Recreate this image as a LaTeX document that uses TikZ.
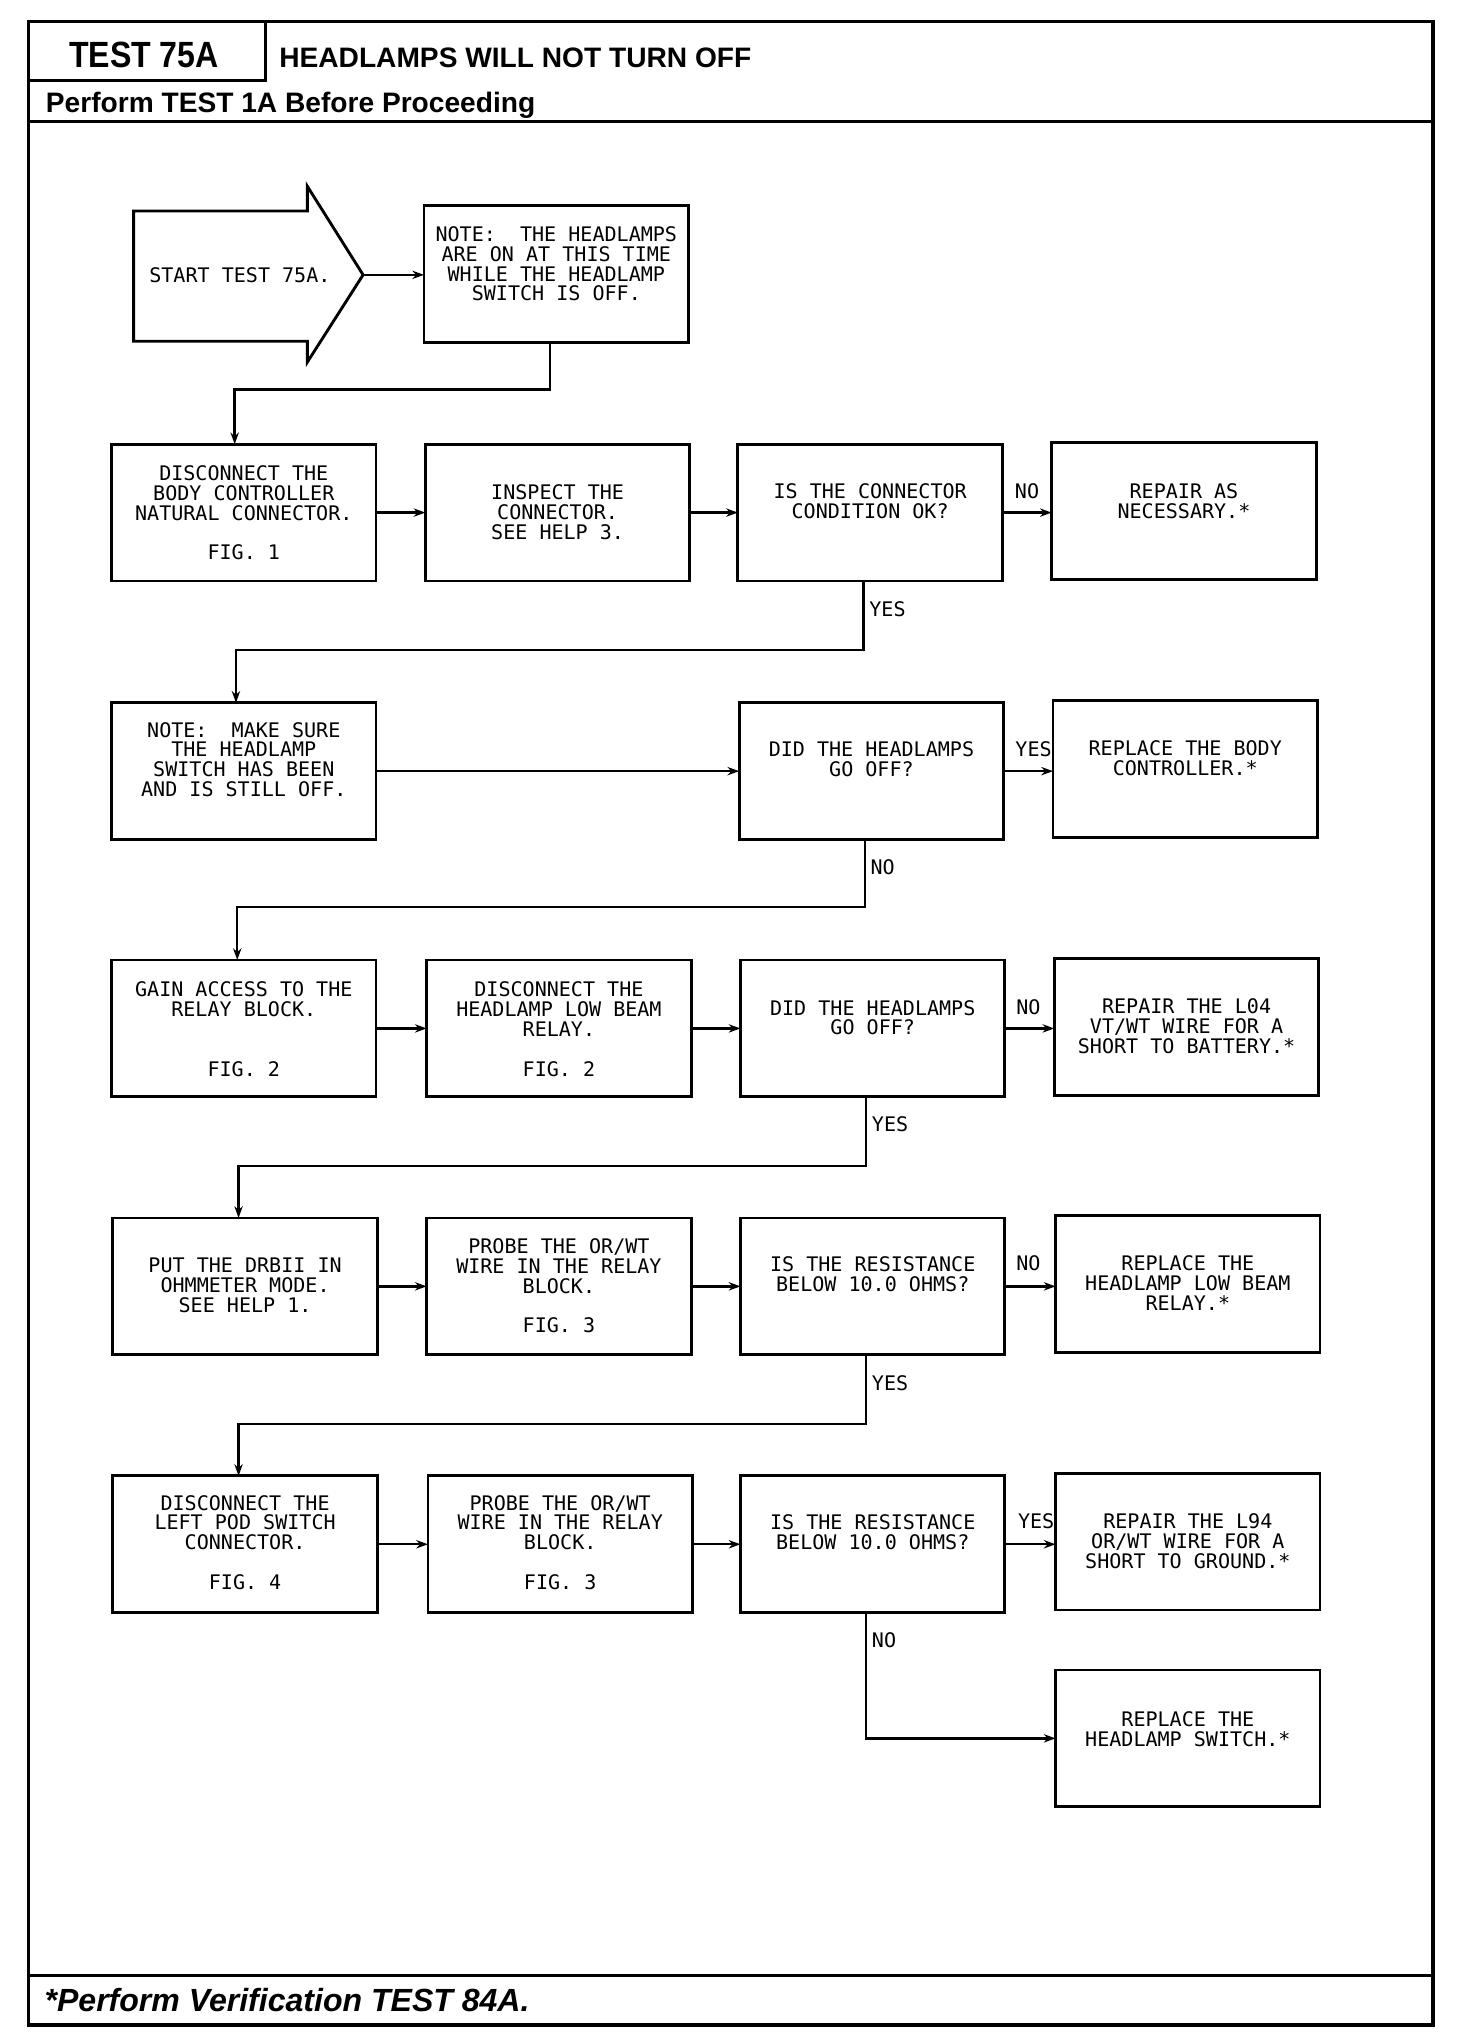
\documentclass[tikz,border=0pt]{standalone}
\usepackage{fontspec}
\setmainfont{Liberation Sans}
\newfontfamily\plotfont{DejaVu Sans Mono}
\newfontfamily\headcond[FakeStretch=0.88]{Liberation Sans}
\usetikzlibrary{arrows.meta,calc}
\begin{document}
\begin{tikzpicture}[x=0.49775pt,y=-0.5pt,
  box/.style={draw,line width=1.1pt,minimum width=101.5pt,minimum height=52.5pt,inner sep=0pt,outer sep=0pt,anchor=north west},
  txt/.style={font={\plotfont\fontsize{7.7pt}{7.6pt}\selectfont},align=center,inner sep=0pt,anchor=north},
  lbl/.style={font={\plotfont\fontsize{7.7pt}{7.6pt}\selectfont},inner sep=0pt},
  arr/.style={line width=0.9pt,-{Stealth[length=4.5pt,width=3.2pt]}},
  frame/.style={line width=1.2pt}]
\useasboundingbox (0,0) rectangle (1135.1,1563);
% frame and header
\draw[frame] (22,16.8) rectangle (1105,1554.5);
\draw[frame] (205,16.8) -- (205,62) -- (22,62);
\draw[frame] (22,93.5) -- (1105,93.5);
\draw[frame] (22,1516.5) -- (1105,1516.5);
\node[font={\headcond\bfseries\fontsize{14pt}{16pt}\selectfont},anchor=base,inner sep=0pt] (ttl) at (111,52) {TEST 75A};
\node[font={\bfseries\fontsize{10.8pt}{12pt}\selectfont},anchor=base west,inner sep=0pt] (head) at (215,52) {HEADLAMPS WILL NOT TURN OFF};
\node[font={\bfseries\fontsize{10.8pt}{12pt}\selectfont},anchor=base west,inner sep=0pt] (pre) at (35,86.5) {Perform TEST 1A Before Proceeding};
\node[font={\bfseries\itshape\fontsize{12.3pt}{14pt}\selectfont},anchor=base west,inner sep=0pt] (foot) at (34,1544.5) {*Perform Verification TEST 84A.};
% start arrow
\draw[line width=1.1pt] (103,162) -- (237,162) -- (237,143) -- (280,211) -- (237,278) -- (237,262) -- (103,262) -- cycle;
\node[lbl] (start) at (185,211) {START TEST 75A.};
\coordinate (st) at (280,211);
% boxes
\node[box] (N1) at (327,158) {};
\node[txt] at (429,173.5) {NOTE:\ \ THE HEADLAMPS\\ARE ON AT THIS TIME\\WHILE THE HEADLAMP\\SWITCH IS OFF.};
\node[box] (B1) at (86,341) {};
\node[txt] at (188,357) {DISCONNECT THE\\BODY CONTROLLER\\NATURAL CONNECTOR.\\~\\FIG. 1};
\node[box] (B2) at (328,341) {};
\node[txt] at (430,372) {INSPECT THE\\CONNECTOR.\\SEE HELP 3.};
\node[box] (B3) at (569,341) {};
\node[txt] at (671,371) {IS THE CONNECTOR\\CONDITION OK?};
\node[box] (B4) at (811,340) {};
\node[txt] at (913,371) {REPAIR AS\\NECESSARY.*};
\node[box] (C1) at (86,539.5) {};
\node[txt] at (188,554) {NOTE:\ \ MAKE SURE\\THE HEADLAMP\\SWITCH HAS BEEN\\AND IS STILL OFF.};
\node[box] (C3) at (570,539.5) {};
\node[txt] at (672,569) {DID THE HEADLAMPS\\GO OFF?};
\node[box] (C4) at (812,538) {};
\node[txt] at (914,568.5) {REPLACE THE BODY\\CONTROLLER.*};
\node[box] (D1) at (86,737) {};
\node[txt] at (188,753.5) {GAIN ACCESS TO THE\\RELAY BLOCK.\\~\\~\\FIG. 2};
\node[box] (D2) at (329,737) {};
\node[txt] at (431,753.5) {DISCONNECT THE\\HEADLAMP LOW BEAM\\RELAY.\\~\\FIG. 2};
\node[box] (D3) at (571,737) {};
\node[txt] at (673,767.5) {DID THE HEADLAMPS\\GO OFF?};
\node[box] (D4) at (813,736) {};
\node[txt] at (915,766.5) {REPAIR THE L04\\VT/WT WIRE FOR A\\SHORT TO BATTERY.*};
\node[box] (E1) at (87,935) {};
\node[txt] at (189,965.5) {PUT THE DRBII IN\\OHMMETER MODE.\\SEE HELP 1.};
\node[box] (E2) at (329,935) {};
\node[txt] at (431,950.5) {PROBE THE OR/WT\\WIRE IN THE RELAY\\BLOCK.\\~\\FIG. 3};
\node[box] (E3) at (571,935) {};
\node[txt] at (673,964.5) {IS THE RESISTANCE\\BELOW 10.0 OHMS?};
\node[box] (E4) at (814,933) {};
\node[txt] at (916,963.5) {REPLACE THE\\HEADLAMP LOW BEAM\\RELAY.*};
\node[box] (F1) at (87,1133) {};
\node[txt] at (189,1147.5) {DISCONNECT THE\\LEFT POD SWITCH\\CONNECTOR.\\~\\FIG. 4};
\node[box] (F2) at (330,1133) {};
\node[txt] at (432,1147.5) {PROBE THE OR/WT\\WIRE IN THE RELAY\\BLOCK.\\~\\FIG. 3};
\node[box] (F3) at (571,1133) {};
\node[txt] at (673,1162.5) {IS THE RESISTANCE\\BELOW 10.0 OHMS?};
\node[box] (F4) at (814,1131) {};
\node[txt] at (916,1161.5) {REPAIR THE L94\\OR/WT WIRE FOR A\\SHORT TO GROUND.*};
\node[box] (F5) at (814,1282) {};
\node[txt] at (916,1313.5) {REPLACE THE\\HEADLAMP SWITCH.*};
% connectors
\draw[arr] (st) -- (st -| N1.west);
\draw[arr] ($(N1.south)+(-5,0)$) -- ++(0,36) -| ($(B1.north)+(-7,0)$);
\draw[arr] (B1.east) -- (B2.west);
\draw[arr] (B2.east) -- (B3.west);
\draw[arr] (B3.east) -- (B3.east -| B4.west);
\node[lbl] (l1) at (792,377) {NO};
\draw[arr] ($(B3.south)+(-5,0)$) -- ++(0,53) -| ($(C1.north)+(-6,0)$);
\node[lbl,anchor=west] (l2) at (670,468) {YES};
\draw[arr] (C1.east) -- (C3.west);
\draw[arr] (C3.east) -- (C3.east -| C4.west);
\node[lbl] (l3) at (797,575) {YES};
\draw[arr] ($(C3.south)+(-5,0)$) -- ++(0,52) -| ($(D1.north)+(-5,0)$);
\node[lbl,anchor=west] (l4) at (671,666) {NO};
\draw[arr] (D1.east) -- (D2.west);
\draw[arr] (D2.east) -- (D3.west);
\draw[arr] (D3.east) -- (D3.east -| D4.west);
\node[lbl] (l5) at (793,773) {NO};
\draw[arr] ($(D3.south)+(-5,0)$) -- ++(0,53) -| ($(E1.north)+(-5,0)$);
\node[lbl,anchor=west] (l6) at (672,863) {YES};
\draw[arr] (E1.east) -- (E2.west);
\draw[arr] (E2.east) -- (E3.west);
\draw[arr] (E3.east) -- (E3.east -| E4.west);
\node[lbl] (l7) at (793,970) {NO};
\draw[arr] ($(E3.south)+(-5,0)$) -- ++(0,53) -| ($(F1.north)+(-5,0)$);
\node[lbl,anchor=west] (l8) at (672,1062) {YES};
\draw[arr] (F1.east) -- (F2.west);
\draw[arr] (F2.east) -- (F3.west);
\draw[arr] (F3.east) -- (F3.east -| F4.west);
\node[lbl] (l9) at (799,1168) {YES};
\draw[arr] ($(F3.south)+(-5,0)$) |- (F5.west);
\node[lbl,anchor=west] (l10) at (672,1259) {NO};
\end{tikzpicture}
\end{document}
